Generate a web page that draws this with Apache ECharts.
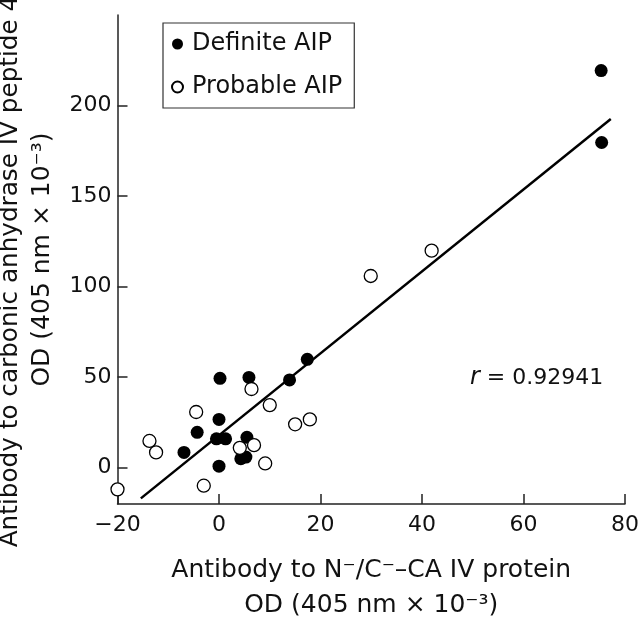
<!DOCTYPE html>
<html>
<head>
<meta charset="utf-8">
<script src="https://cdn.jsdelivr.net/npm/echarts@6/dist/echarts.min.js"></script>
<style>
html,body{margin:0;padding:0;background:#fff;}
#chart{width:640px;height:622px;}
</style>
</head>
<body>
<div id="chart"></div>
<script>
// Definite AIP (filled)
const definiteX = [17.4, 13.9, 0.2, 5.9, 0.0, -4.3, -0.5, 1.3, 5.5, -6.9, 4.3, 5.3, 0.0, 75.3, 75.4];
const definiteY = [59.9, 48.5, 49.4, 49.9, 26.7, 19.6, 16.0, 16.0, 16.8, 8.5, 5.0, 5.9, 0.9, 219.3, 179.6];
// Probable AIP (open)
const probableX = [-13.7, -12.4, -4.5, 6.4, 10.0, 15.0, 17.9, 4.1, 6.9, 9.1, -3.0, -20.0, 29.9, 41.9];
const probableY = [14.8, 8.5, 30.8, 43.5, 34.6, 24.0, 26.7, 11.0, 12.5, 2.4, -9.9, -11.9, 105.9, 119.9];
// Regression line endpoints
const fitX = [-15.4, 77.2];
const fitY = [-16.9, 192.6];
const xTicks = [-20, 0, 20, 40, 60, 80];
const yTicks = [0, 50, 100, 150, 200];
const rText = '0.92941';

const FONT = 'DejaVu Sans';
const zip = (a, b) => a.map((v, i) => [v, b[i]]);

const chart = echarts.init(document.getElementById('chart'), null, {renderer: 'canvas'});
chart.setOption({
  animation: false,
  backgroundColor: '#fff',
  textStyle: {fontFamily: FONT, color: '#111'},
  grid: {left: 117.5, right: 15, top: 15, bottom: 118, outerBoundsMode: 'none'},
  legend: {
    left: 163, top: 23, orient: 'vertical',
    data: ['Definite AIP', 'Probable AIP'],
    borderColor: '#333', borderWidth: 1.2,
    padding: [9, 12, 9, 8],
    itemWidth: 11, itemHeight: 11, itemGap: 19,
    textStyle: {fontFamily: FONT, fontSize: 24, color: '#111', padding: [0, 0, 0, 4]}
  },
  xAxis: {
    type: 'value', min: -20, max: 80, interval: 20,
    splitLine: {show: false},
    axisLine: {onZero: false, lineStyle: {color: '#222', width: 1.5}},
    axisTick: {inside: true, length: 10, lineStyle: {color: '#222', width: 1.5}},
    axisLabel: {fontFamily: FONT, fontSize: 22, color: '#111', margin: 10,
      formatter: v => (v < 0 ? '\u2212' + Math.abs(v) : String(v))},
    name: 'Antibody to N\u207B/C\u207B\u2013CA IV protein\nOD (405 nm \u00D7 10\u207B\u00B3)',
    nameLocation: 'middle', nameGap: 49,
    nameTextStyle: {fontFamily: FONT, fontSize: 25, color: '#111', lineHeight: 35}
  },
  yAxis: {
    type: 'value', min: -20, max: 250,
    splitLine: {show: false},
    axisLine: {onZero: false, lineStyle: {color: '#222', width: 1.5}},
    axisTick: {inside: true, length: 10, customValues: yTicks, lineStyle: {color: '#222', width: 1.5}},
    axisLabel: {fontFamily: FONT, fontSize: 22, color: '#111', margin: 6, customValues: yTicks},
    name: '{a|Antibody to carbonic anhydrase IV peptide 4}\n{b|OD (405 nm \u00D7 10\u207B\u00B3)}',
    nameLocation: 'middle', nameGap: 56,
    nameTextStyle: {
      fontFamily: FONT, fontSize: 25, color: '#111', lineHeight: 32,
      rich: {
        a: {fontFamily: FONT, fontSize: 24.7, color: '#111', lineHeight: 32, padding: [0, 24, 0, 0]},
        b: {fontFamily: FONT, fontSize: 25, color: '#111', lineHeight: 32}
      }
    }
  },
  series: [
    {
      name: 'Fit', type: 'line', data: zip(fitX, fitY), symbol: 'none',
      lineStyle: {color: '#000', width: 2.5}, silent: true, z: 1
    },
    {
      name: 'Definite AIP', type: 'scatter', data: zip(definiteX, definiteY),
      symbol: 'circle', symbolSize: 13,
      itemStyle: {color: '#000', borderColor: '#000', borderWidth: 0, opacity: 1}, z: 3
    },
    {
      name: 'Probable AIP', type: 'scatter', data: zip(probableX, probableY),
      symbol: 'circle', symbolSize: 13,
      itemStyle: {color: '#fff', borderColor: '#000', borderWidth: 1.3, opacity: 1}, z: 3
    }
  ],
  graphic: [{
    type: 'text', left: 470, top: 366,
    style: {
      text: '{i|r} = ' + rText,
      fontFamily: FONT, fontSize: 22, fill: '#111',
      rich: {i: {fontStyle: 'italic', fontFamily: FONT, fontSize: 24, fill: '#111'}}
    }
  }]
});
</script>
</body>
</html>
